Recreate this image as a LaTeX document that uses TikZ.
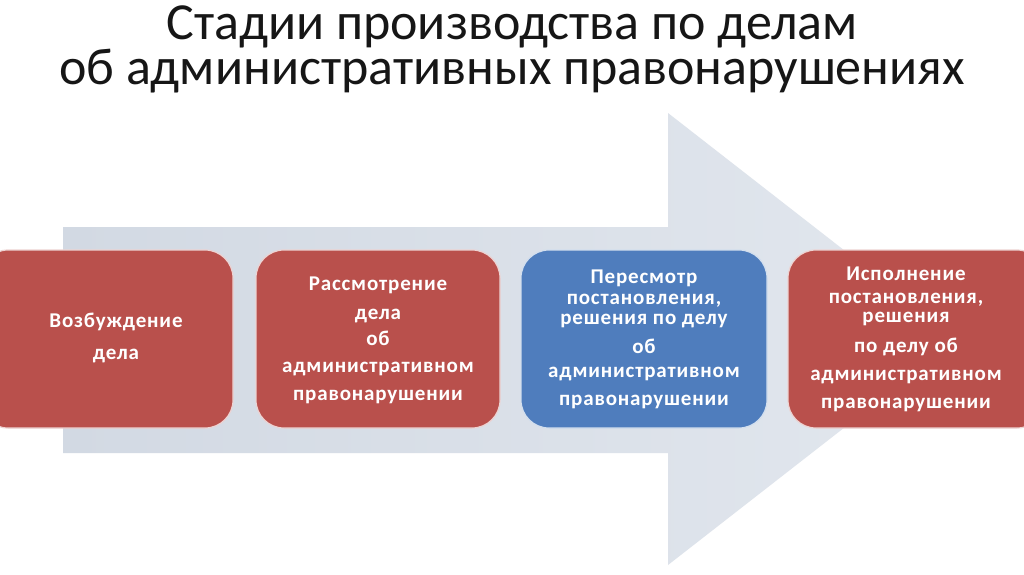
\documentclass[tikz,border=0pt]{standalone}
\usepackage{fontspec}
\setmainfont{Carlito}
\newfontfamily\boxfont[LetterSpace=4]{Carlito}
\definecolor{arrowfill}{HTML}{D2D9E3}
\definecolor{arrowlight}{HTML}{E2E7EE}
\definecolor{stagered}{HTML}{B9504C}
\definecolor{stageblue}{HTML}{4F7DBD}
\definecolor{titlegray}{HTML}{161616}
\begin{document}
\begin{tikzpicture}[x=1pt,y=-1pt,
  stagebox/.style={rounded corners=28pt, draw=white!75!stagered, line width=1.2pt},
  stagetext/.style={text=white, align=center, font=\boxfont\bfseries\fontsize{21}{24}\selectfont, anchor=north},
  titletext/.style={text=titlegray, align=center, font=\fontsize{52}{37}\selectfont, anchor=north}]
\useasboundingbox (0,0) rectangle (1024,574);
\fill[white] (0,0) rectangle (1024,574);
% big arrow
\shade[left color=arrowfill, right color=arrowlight, shading angle=90]
  (63,227) -- (668,227) -- (668,113) -- (958,339) -- (668,565) -- (668,453) -- (63,453) -- cycle;
% title
\node[titletext] (title) at (512,2) {Стадии производства по делам\\об административных правонарушениях};
% boxes
\filldraw[stagebox, fill=stagered] (-20,250) rectangle (233,428);
\filldraw[stagebox, fill=stagered] (256,250) rectangle (500,428);
\filldraw[stagebox, fill=stageblue, draw=white!75!stageblue] (521,250) rectangle (767,428);
\filldraw[stagebox, fill=stagered] (788,250) rectangle (1045,428);
% texts
\node[stagetext] (b1) at (116,309) {Возбуждение\\[8pt]дела};
\node[stagetext] (b2) at (378,273) {Рассмотрение\\[5pt]дела\\[2pt]об\\[3pt]административном\\[4pt]правонарушении};
\node[stagetext] (b3) at (644,266) {Пересмотр\\[-3pt]постановления,\\[-4pt]решения по делу\\[5pt]об\\[0pt]административном\\[4pt]правонарушении};
\node[stagetext] (b4) at (906,263) {Исполнение\\[-1pt]постановления,\\[-5pt]решения\\[6pt]по делу об\\[4pt]административном\\[4pt]правонарушении};
\end{tikzpicture}
\end{document}
